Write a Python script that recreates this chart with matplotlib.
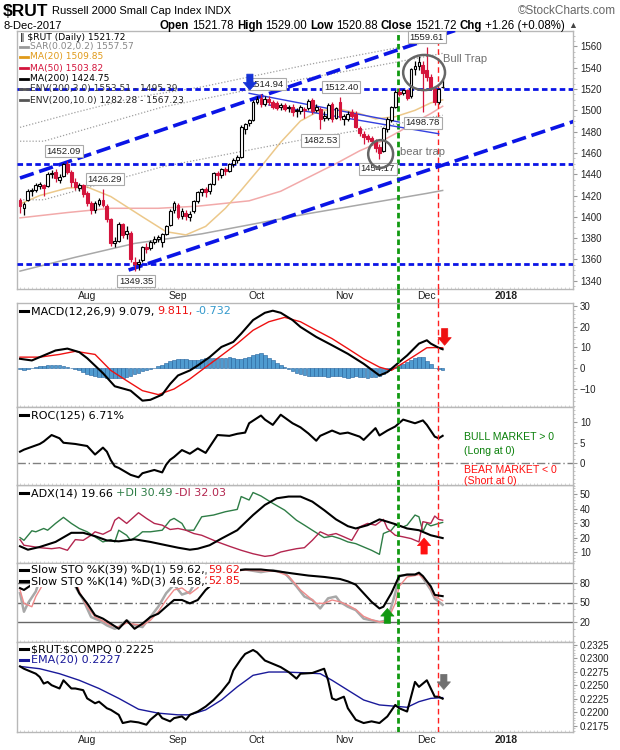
import matplotlib
matplotlib.use("Agg")
import matplotlib.pyplot as plt
from matplotlib.patches import Ellipse, Rectangle
from matplotlib.ticker import MultipleLocator, FormatStrFormatter

plt.rcParams["font.family"] = ["DejaVu Sans"]

W, H = 620, 750
ARIAL = ["Liberation Sans", "DejaVu Sans"]
RED = "#d4143c"
BLUE = "#0a14e6"
FRAME = "#b8b8b8"

# ---- daily bars, 10-Jul-2017 .. 8-Dec-2017 (trading-day index 0..107)
opens = [1416, 1408, 1416, 1424, 1425, 1429, 1430, 1429, 1440, 1442,
         1435, 1438, 1450, 1442, 1433, 1427, 1430, 1422, 1413, 1406,
         1412, 1416, 1410, 1398, 1375, 1377, 1393, 1384, 1385, 1358,
         1356, 1359, 1372, 1371, 1376, 1379, 1376, 1384, 1392, 1406,
         1411, 1401, 1404, 1400, 1405, 1415, 1423, 1426, 1424, 1431,
         1441, 1439, 1445, 1443, 1450, 1453, 1456, 1482, 1488, 1491,
         1508, 1512, 1506, 1511, 1508, 1507, 1503, 1505, 1502, 1503,
         1499, 1499, 1500, 1502, 1510, 1500, 1501, 1493, 1493, 1506,
         1493, 1508, 1492, 1492, 1498, 1497, 1483, 1478, 1476, 1474,
         1471, 1466, 1462, 1482, 1491, 1503, 1517, 1516, 1519, 1513,
         1539, 1542, 1543, 1538, 1531, 1520, 1508, 1521.78]
highs = [1418, 1414, 1426, 1427, 1432, 1433, 1431, 1442, 1444, 1445,
         1440, 1451, 1452.09, 1444, 1436, 1432, 1431, 1424, 1415, 1415,
         1418, 1426.29, 1412, 1399, 1381, 1395, 1394, 1391, 1387, 1362,
         1360, 1373, 1375, 1378, 1382, 1383, 1385, 1392, 1407, 1415,
         1413, 1408, 1406, 1405, 1416, 1424, 1427, 1428, 1432, 1442,
         1443, 1446, 1447, 1451, 1455, 1458, 1486, 1488, 1492, 1510,
         1513, 1514.94, 1513, 1513, 1510, 1509, 1507, 1507, 1505, 1506,
         1502, 1505, 1503, 1511, 1512, 1506, 1503, 1499, 1507, 1508,
         1503, 1512.40, 1497, 1499, 1501, 1499, 1485, 1481, 1478, 1476,
         1473, 1468, 1484, 1494, 1504, 1519, 1521, 1520, 1520, 1540,
         1546, 1551, 1546, 1559.61, 1534, 1522, 1521, 1529.00]
lows = [1404, 1402, 1415, 1420, 1423, 1426, 1420, 1428, 1436, 1433,
        1432, 1437, 1440, 1428, 1425, 1424, 1419, 1410, 1403, 1404,
        1410, 1409, 1395, 1373, 1372, 1376, 1380, 1379, 1358, 1349.35,
        1350, 1358, 1366, 1369, 1374, 1376, 1372, 1383, 1391, 1404,
        1398, 1398, 1397, 1396, 1404, 1413, 1420, 1419, 1421, 1430,
        1435, 1436, 1439, 1442, 1447, 1451, 1455, 1478, 1485, 1490,
        1506, 1503, 1504, 1505, 1501, 1500, 1500, 1499, 1498, 1495,
        1494, 1497, 1493, 1500, 1497, 1498, 1482.53, 1490, 1491, 1489,
        1492, 1491, 1486, 1490, 1493, 1483, 1476, 1468, 1470, 1467,
        1461, 1454.17, 1461, 1480, 1489, 1502, 1513, 1514, 1510, 1512,
        1533, 1538, 1498.78, 1528, 1519, 1505, 1506, 1520.88]
closes = [1410, 1412, 1424, 1425, 1430, 1431, 1427, 1440, 1441, 1436,
          1437, 1450, 1442, 1433, 1428, 1430, 1421, 1413, 1406, 1413,
          1416, 1411, 1398, 1375, 1377, 1393, 1383, 1387, 1360, 1356,
          1358, 1372, 1370, 1376, 1379, 1381, 1384, 1391, 1405, 1413,
          1400, 1405, 1401, 1403, 1415, 1423, 1426, 1423, 1431, 1441,
          1439, 1445, 1443, 1450, 1453, 1456, 1484, 1487, 1491, 1508,
          1511, 1506, 1511, 1508, 1503, 1502, 1505, 1501, 1503, 1498,
          1500, 1503, 1501, 1509, 1499, 1503, 1492, 1495, 1505, 1492,
          1502, 1494, 1495, 1497, 1495, 1484, 1479, 1475, 1473, 1471,
          1465, 1460, 1483, 1492, 1503, 1517, 1515, 1519, 1512, 1539,
          1542, 1545, 1535, 1531, 1521, 1508, 1520.46, 1521.72]

# ---- overlays (read at a few points)
ma20_x = [0, 5, 12, 17, 23, 31, 37, 42, 47, 52, 56, 61, 66, 71, 76, 81, 86, 90, 95, 100, 104, 107]
ma20_v = [1412, 1420, 1427, 1428, 1419, 1400, 1386, 1383, 1391, 1408, 1425, 1447, 1470, 1490,
          1500, 1501, 1497, 1492, 1494, 1500, 1507, 1509.85]
ma50_x = [0, 12, 23, 35, 45, 58, 66, 73, 80, 86, 91, 96, 100, 104, 107]
ma50_v = [1399, 1404, 1408, 1408, 1410, 1415, 1424, 1437, 1450, 1462, 1470, 1480, 1489, 1497, 1503.82]
ma200_x = [0, 14, 29, 46, 73, 103, 107]
ma200_v = [1349, 1362, 1375, 1384, 1403, 1422, 1424.75]
env10_up_v = [1484, 1498, 1512, 1522, 1543, 1564, 1567.23]
env_x = [0, 6, 36, 71, 92, 107]
env_up_v = [1471, 1471, 1503, 1529, 1543, 1553.51]
env_lo_v = [1416, 1416, 1447, 1472, 1485, 1495.39]

levels = [1520, 1450, 1356]
up_chan_x, up_chan_v = [0, 120], [1436.4, 1587.4]
lo_chan_x, lo_chan_v = [27.5, 140.5], [1350, 1490]
desc_up_x, desc_up_v = [58, 96], [1516, 1489]
desc_lo_x, desc_lo_v = [63, 106], [1505, 1478]

lbl_text = ["1452.09", "1426.29", "1349.35", "1514.94", "1512.40", "1482.53", "1454.17", "1498.78", "1559.61"]
lbl_x = [11.1, 21.5, 29.4, 62.5, 81.3, 76.0, 90.6, 102.0, 103.0]
lbl_y = [1461.8, 1435.5, 1339.7, 1524.7, 1521.9, 1471.6, 1444.9, 1488.1, 1568.8]

green_day, red_day = 95.6, 105.7

# ---- MACD
macd_x = [0, 3, 6, 9, 12, 15, 17, 21, 24, 28, 31, 33, 36, 38, 40, 43, 45, 48, 51, 54,
          56, 59, 62, 64, 66, 69, 71, 75, 79, 83, 87, 91, 93, 95, 98, 101, 103, 104, 106, 107]
macd_v = [4.5, 3.7, 6.1, 8.5, 9.4, 7.7, 4.8, -2.4, -8.7, -10.8, -15.6, -15.2, -12.7, -7.6, -3.5, -1.1, 1.3, 5.3, 10.2, 12.6,
          16.6, 23.1, 26.6, 27.6, 26.6, 23.1, 19.8, 15.0, 11.0, 6.9, 2.1, -3.5, -1.9, 1.3, 6.1, 11.8, 13.4, 11.8, 9.8, 9.08]
sig_x = [0, 5, 10, 14, 19, 23, 27, 31, 35, 39, 43, 47, 51, 55, 59, 63, 67, 71, 75, 79,
         83, 87, 91, 94, 96, 100, 103, 105, 107]
sig_v = [5.3, 5.3, 6.6, 8.1, 6.6, -1.1, -6.0, -10.8, -12.7, -10.0, -5.2, 0.5, 6.1, 11.8, 18.2, 22.3, 24.4, 22.3, 18.2, 14.2,
         9.4, 4.5, 0.5, -1.1, 1.3, 6.1, 9.8, 9.9, 9.81]
hist = [-0.5, -0.9, -0.6,
        0.3, 0.6, 0.9, 1.1, 1.3, 1.5, 1.6, 1.5, 1.2, 0.8, 0.3,
        -0.3, -1.0, -1.8, -2.6,
        -3.3, -3.8, -4.2, -4.4, -4.6, -4.8, -4.9, -4.8, -4.6, -4.4,
        -3.8, -3.0, -2.2, -1.5, -0.9,
        -0.3, 0.3, 0.9, 1.6,
        2.5, 3.3, 4.1,
        4.6, 4.5, 4.2, 3.9, 3.7, 4.0, 4.4,
        4.7, 5.0, 5.1, 4.9, 4.8, 5.0, 5.2, 4.9,
        4.6, 4.4, 4.7, 5.3,
        6.2, 6.9, 7.2,
        6.3, 5.1, 3.9, 2.6, 1.4,
        0.4, -0.6, -1.5, -2.3,
        -2.9, -3.3, -3.6, -3.8, -3.7, -3.8, -4.0, -4.1, -3.9, -3.7, -4.0, -4.3, -4.5, -4.2, -4.0, -4.1,
        -4.4, -4.6, -4.4, -4.1, -3.6,
        -2.6, -1.4, -0.2, 0.5,
        1.3, 2.1, 3.0, 3.9,
        4.8, 5.5, 5.2,
        3.6, 1.8, 0.2, -0.4, -0.73]

# ---- ROC(125)
roc_x = [0, 1, 3, 5, 6, 8, 10, 11, 14, 17, 19, 21, 22, 23, 24, 25, 28, 30, 31, 34,
         36, 37, 38, 39, 41, 43, 45, 47, 50, 53, 55, 57, 58, 61, 62, 64, 66, 69, 71, 73,
         75, 76, 79, 81, 83, 86, 87, 90, 91, 93, 95, 97, 100, 102, 103, 105, 106, 107]
roc_v = [2.8, 3.3, 4.0, 4.7, 5.3, 6.9, 6.1, 5.0, 4.7, 4.2, 2.1, 3.8, 2.8, 0.7, -0.8, -1.2, -2.9, -3.5, -2.5, -1.7,
         -2.3, -0.4, 0.8, 1.5, 3.2, 2.3, 3.6, 2.5, 6.9, 6.7, 7.2, 7.5, 9.8, 11.7, 10.7, 9.4, 11.9, 9.8, 8.8, 7.3,
         5.5, 6.7, 8.0, 7.2, 7.5, 6.5, 5.7, 8.6, 6.8, 8.0, 9.0, 10.7, 9.8, 10.5, 9.4, 6.5, 6.1, 6.71]

# ---- ADX(14)
adx_x = [0, 2, 5, 9, 13, 16, 19, 22, 25, 29, 33, 37, 40, 43, 45, 48, 51, 55, 59, 62,
         65, 68, 71, 74, 77, 80, 83, 85, 88, 91, 93, 95, 98, 101, 104, 107]
adx_v = [14.0, 11.6, 13.5, 17.0, 23.3, 23.3, 21.0, 18.0, 17.4, 18.8, 17.0, 14.7, 13.0, 11.6, 12.3, 14.7, 19.3, 25.1, 35.6, 42.6,
         47.2, 48.4, 48.4, 44.9, 39.0, 32.6, 27.9, 26.3, 28.6, 32.6, 31.0, 29.3, 26.3, 25.1, 21.6, 19.66]
pdi_x = [0, 1, 3, 4, 6, 7, 9, 11, 13, 15, 17, 19, 21, 23, 24, 25, 27, 28, 30, 31,
         33, 36, 38, 39, 41, 42, 44, 46, 49, 52, 55, 56, 58, 59, 61, 64, 67, 70, 72, 74,
         77, 79, 81, 83, 85, 87, 89, 91, 92, 94, 95, 97, 98, 100, 101, 102, 103, 104, 106, 107]
pdi_v = [20.0, 18.1, 24.7, 24.0, 26.3, 25.1, 29.8, 34.0, 29.8, 26.3, 24.0, 20.5, 17.0, 18.6, 17.0, 25.1, 21.6, 18.1, 21.6, 24.0,
         24.0, 25.1, 32.0, 33.3, 29.8, 25.1, 25.1, 34.4, 35.6, 37.9, 39.5, 48.4, 46.0, 51.2, 48.8, 43.7, 39.0, 32.0, 28.6, 25.1,
         20.0, 21.0, 19.3, 17.0, 15.8, 13.5, 11.2, 8.4, 22.8, 25.1, 28.6, 27.4, 28.6, 35.6, 34.4, 24.0, 29.8, 28.1, 29.8, 30.49]
mdi_x = [0, 1, 5, 8, 10, 12, 14, 16, 18, 19, 21, 23, 24, 25, 27, 30, 32, 34, 36, 38,
         40, 42, 44, 46, 48, 50, 53, 56, 59, 62, 64, 66, 68, 70, 72, 74, 76, 78, 80, 82,
         84, 86, 88, 90, 92, 93, 95, 97, 99, 101, 102, 104, 105, 106, 107]
mdi_v = [18.6, 14.7, 13.0, 12.3, 13.0, 11.2, 18.6, 18.1, 21.6, 24.0, 22.3, 25.1, 32.0, 34.0, 29.8, 37.2, 33.3, 29.8, 28.6, 25.6,
         26.3, 25.1, 22.8, 21.6, 19.3, 17.0, 14.0, 11.2, 8.8, 7.0, 7.7, 10.0, 11.2, 12.3, 13.0, 18.1, 24.0, 21.6, 22.8, 20.5,
         18.1, 27.4, 29.8, 28.6, 32.6, 26.3, 21.6, 20.5, 19.3, 17.0, 31.0, 29.8, 34.9, 32.6, 32.03]

# ---- Slow stochastics
k39_x = [0, 1, 3, 5, 7, 9, 11, 13, 15, 17, 19, 21, 23, 25, 27, 29, 31, 33, 35, 37,
         39, 41, 43, 45, 47, 49, 51, 53, 57, 61, 65, 69, 73, 77, 81, 83, 85, 87, 89, 91,
         92, 94, 95, 96, 98, 100, 101, 102, 104, 105, 107]
k39_v = [71.8, 69.0, 77.0, 87.0, 97.0, 99.0, 98.0, 90.0, 64.0, 48.7, 30.7, 25.6, 18.0, 10.2, 23.0, 10.2, 18.0, 28.0, 33.0, 43.6,
         53.8, 53.8, 48.7, 53.8, 69.0, 79.5, 90.0, 97.0, 100.0, 100.0, 97.4, 94.0, 90.8, 88.7, 85.6, 82.0, 77.0, 64.0, 51.0, 41.0,
         43.6, 64.0, 77.0, 90.0, 92.3, 92.3, 95.0, 90.0, 74.4, 61.5, 59.62]
k14_x = [0, 1, 2, 4, 5, 7, 10, 13, 14, 16, 18, 20, 22, 24, 25, 27, 29, 31, 33, 35,
         37, 39, 41, 43, 45, 47, 49, 53, 57, 61, 64, 67, 70, 72, 74, 76, 78, 80, 81, 83,
         85, 87, 89, 91, 93, 95, 96, 98, 100, 101, 102, 104, 105, 107]
k14_v = [64.0, 36.0, 48.7, 66.7, 84.6, 97.0, 100.0, 95.0, 74.0, 54.0, 28.0, 23.0, 15.4, 10.2, 12.8, 23.0, 15.4, 12.8, 28.0, 43.6,
         64.0, 77.0, 62.0, 66.0, 88.0, 94.0, 97.0, 98.0, 100.0, 96.0, 99.0, 95.0, 74.4, 59.0, 53.8, 41.0, 56.4, 59.0, 51.0, 43.6,
         38.5, 25.6, 23.0, 20.5, 23.0, 64.0, 90.0, 92.0, 92.0, 95.0, 87.0, 69.0, 56.0, 46.58]
d3_x = [0, 1, 3, 4, 6, 8, 11, 14, 15, 17, 19, 21, 23, 25, 27, 29, 31, 33, 35, 37,
        39, 41, 43, 45, 47, 49, 53, 57, 61, 65, 68, 71, 73, 75, 77, 79, 81, 83, 85, 87,
        89, 91, 93, 95, 96, 98, 100, 101, 103, 105, 107]
d3_v = [69.0, 48.7, 43.6, 59.0, 79.5, 95.0, 100.0, 87.0, 66.7, 43.6, 28.0, 22.0, 15.4, 12.8, 19.0, 17.0, 15.4, 23.0, 36.0, 53.8,
        69.0, 72.0, 63.0, 72.0, 88.0, 93.0, 97.0, 99.0, 98.0, 97.0, 90.0, 69.0, 59.0, 48.7, 48.7, 53.8, 51.0, 46.0, 39.5, 29.0,
        24.0, 20.5, 22.0, 48.7, 74.4, 88.7, 90.8, 92.3, 82.0, 59.0, 52.85]

# ---- $RUT:$COMPQ ratio
rat_x = [0, 1, 2, 4, 5, 6, 7, 8, 10, 11, 13, 14, 16, 17, 19, 20, 22, 23, 25, 26,
         28, 30, 32, 33, 35, 36, 38, 39, 41, 42, 43, 45, 47, 49, 51, 53, 54, 56, 57, 59,
         60, 62, 64, 66, 68, 70, 71, 74, 77, 78, 79, 80, 82, 83, 85, 87, 89, 91, 93, 95,
         96, 98, 100, 101, 103, 105, 106, 107]
rat_v = [0.22848, 0.22805, 0.22774, 0.22713, 0.22652, 0.22530, 0.22560, 0.22500, 0.22439, 0.22591,
         0.22439, 0.22439, 0.22408, 0.22256, 0.22165, 0.22195, 0.22073, 0.22043, 0.21951, 0.21799,
         0.21830, 0.21811, 0.21768, 0.21860, 0.21982, 0.21890, 0.21830, 0.21890, 0.21921, 0.21860,
         0.21951, 0.22012, 0.22104, 0.22226, 0.22378, 0.22561, 0.22774, 0.22988, 0.23079, 0.23152,
         0.23109, 0.22957, 0.22896, 0.22835, 0.22744, 0.22622, 0.22713, 0.22726, 0.22805, 0.22591,
         0.22256, 0.22226, 0.22287, 0.22073, 0.21860, 0.21799, 0.21830, 0.21799, 0.21921, 0.22134,
         0.22073, 0.22012, 0.22561, 0.22469, 0.22591, 0.22287, 0.22287, 0.22250]
ema_x = [0, 5, 10, 15, 20, 25, 30, 35, 40, 43, 47, 51, 55, 59, 63, 67, 71, 76, 79, 83,
         87, 91, 94, 98, 101, 104, 107]
ema_v = [0.22848, 0.22805, 0.22713, 0.22591, 0.22439, 0.22256, 0.22055, 0.21982, 0.21951, 0.21951,
         0.22043, 0.22226, 0.22469, 0.22683, 0.22744, 0.22744, 0.22732, 0.22713, 0.22591, 0.22408,
         0.22226, 0.22134, 0.22116, 0.22091, 0.22195, 0.22256, 0.22270]

month_start = [16, 39, 59, 81, 102, 122]
month_names = ["Aug", "Sep", "Oct", "Nov", "Dec", "2018"]

# ------------------------------------------------------------------
fig = plt.figure(figsize=(W / 100, H / 100), dpi=100)
fig.patch.set_facecolor("white")
X0, X1 = -0.76, 140.0


def box(top, bottom, left=17, right=573):
    return [left / W, 1 - bottom / H, (right - left) / W, (bottom - top) / H]


ax_p = fig.add_axes(box(31, 289))
ax_m = fig.add_axes(box(303, 407))
ax_r = fig.add_axes(box(407, 485))
ax_a = fig.add_axes(box(485, 563))
ax_s = fig.add_axes(box(563, 642))
ax_c = fig.add_axes(box(642, 732))
panels = [ax_p, ax_m, ax_r, ax_a, ax_s, ax_c]
ax_r.set_zorder(2)

for ax in panels:
    ax.set_facecolor("white")
    for sp in ax.spines.values():
        sp.set_color(FRAME)
        sp.set_linewidth(1)
    ax.yaxis.tick_right()
    ax.tick_params(axis="y", which="major", length=3, width=0.8, color="#999999",
                   labelsize=7, pad=2, labelcolor="#222222", labelfontfamily="Liberation Sans")
    ax.tick_params(axis="y", which="minor", length=1.5, width=0.6, color="#bbbbbb")
    ax.set_xticks([m + 1 for m in month_start])
    ax.set_xticks(range(0, 141), minor=True)
    ax.tick_params(axis="x", which="major", length=0, labelbottom=False)
    ax.tick_params(axis="x", which="minor", length=1.5, width=0.5, color="#c8c8c8", direction="in")
    ax.axvline(green_day, color="#119911", lw=2, dashes=(2, 1.2), zorder=4)
    ax.axvline(red_day, color="#ff2020", lw=1, dashes=(4, 2.5), zorder=4)

for ax, pad in ((ax_p, 1.5), (ax_c, 2.5)):
    ax.tick_params(axis="x", which="major", labelbottom=True, labelsize=7.5, pad=pad,
                   labelfontfamily="Liberation Sans", labelcolor="#222222")
    ax.set_xticklabels(month_names)
    ax.get_xticklabels()[-1].set_fontweight("bold")


def block_arrow(ax, x, y_from, y_to, col):
    ax.annotate("", xy=(x, y_to), xytext=(x, y_from), zorder=8,
                arrowprops=dict(arrowstyle="simple,head_length=0.55,head_width=0.95,tail_width=0.45",
                                fc=col, ec=col, lw=0.5, shrinkA=0, shrinkB=0))


# ---- price panel
for i in range(len(closes)):
    o, hi, lo, c = opens[i], highs[i], lows[i], closes[i]
    prev = closes[i - 1] if i else o
    col = RED if c < prev else "black"
    ax_p.vlines(i, lo, hi, color=col, lw=0.9, zorder=5)
    b0, b1 = min(o, c), max(o, c)
    face = "white" if c >= o else col
    ax_p.add_patch(Rectangle((i - 0.36, b0), 0.72, max(b1 - b0, 0.5), facecolor=face,
                             edgecolor=col, lw=0.8, zorder=6))

ax_p.plot(ma200_x, ma200_v, color="#a8a8a8", lw=1.1, zorder=3)
ax_p.plot(ma50_x, ma50_v, color="#f2aaaa", lw=1.1, zorder=3)
ax_p.plot(ma20_x, ma20_v, color="#ecc88a", lw=1.1, zorder=3)
ax_p.plot(ma200_x, env10_up_v, color="#a0a0a0", lw=0.9, dashes=(1, 1.5), zorder=3)
ax_p.plot(env_x, env_up_v, color="#a0a0a0", lw=0.9, dashes=(1, 1.5), zorder=3)
ax_p.plot(env_x, env_lo_v, color="#a0a0a0", lw=0.9, dashes=(1, 1.5), zorder=3)

for lv in levels:
    ax_p.axhline(lv, color=BLUE, lw=2, dashes=(2, 1.2), zorder=4)
ax_p.plot(up_chan_x, up_chan_v, color=BLUE, lw=2.6, dashes=(4, 1.6), zorder=4)
ax_p.plot(lo_chan_x, lo_chan_v, color=BLUE, lw=2.6, dashes=(4, 1.6), zorder=4)
ax_p.plot(desc_up_x, desc_up_v, color="#3340e0", lw=1, zorder=4)
ax_p.plot(desc_lo_x, desc_lo_v, color="#3340e0", lw=1, zorder=4)

for s, x, y in zip(lbl_text, lbl_x, lbl_y):
    ax_p.text(x, y, s, ha="center", va="center", fontsize=6.8, family=ARIAL, color="#222222", zorder=7,
              bbox=dict(boxstyle="square,pad=0.18", fc="white", ec="#aaaaaa", lw=0.8))

ax_p.add_patch(Ellipse((102.3, 1535.5), 10.6, 33, fill=False, ec="#666666", lw=1.8, zorder=7))
ax_p.add_patch(Ellipse((91.3, 1459), 6.3, 26, fill=False, ec="#666666", lw=1.8, zorder=7))
ax_p.text(107.1, 1548, "Bull Trap", color="#707070", fontsize=8, family=ARIAL, va="center", zorder=7)
ax_p.text(96.2, 1461, "bear trap", color="#707070", fontsize=8, family=ARIAL, va="center", zorder=7)
block_arrow(ax_p, 58.2, 1534, 1519, "#1533d6")

ax_p.set_ylim(1332.2, 1574.5)
ax_p.yaxis.set_major_locator(MultipleLocator(20))
ax_p.yaxis.set_minor_locator(MultipleLocator(5))
# the two signal lines continue through the date row under the price panel
for xd, col, lw, ds in ((green_day, "#119911", 2, (2, 1.2)), (red_day, "#ff2020", 1, (4, 2.5))):
    ax_p.plot([xd, xd], [1332.2, 1332.2 - 14 / 1.065], color=col, lw=lw, dashes=ds, clip_on=False, zorder=4)

# ---- MACD
ax_m.bar(range(len(hist)), hist, width=0.92, color="#4f9bd0", edgecolor="#21609a", linewidth=0.4, zorder=2)
ax_m.plot(sig_x, sig_v, color="#ee1111", lw=1, zorder=3)
ax_m.plot(macd_x, macd_v, color="black", lw=1.5, zorder=3)
block_arrow(ax_m, 107.5, 19, 11, "#ee1111")
ax_m.set_ylim(-18.65, 31.3)
ax_m.set_yticks([-10, 0, 10, 20, 30])
ax_m.yaxis.set_minor_locator(MultipleLocator(2))

# ---- ROC
ax_r.axhline(0, color="#808080", lw=1, dashes=(6, 2, 1, 2), zorder=2)
ax_r.plot(roc_x, roc_v, color="black", lw=1.5, zorder=3)
ax_r.text(112.3, 6.4, "BULL MARKET > 0", color="#0a800a", fontsize=7.6, family=ARIAL, va="center")
ax_r.text(112.3, 2.9, "(Long at 0)", color="#0a800a", fontsize=7.6, family=ARIAL, va="center")
ax_r.text(112.3, -1.7, "BEAR MARKET < 0", color="#ff1010", fontsize=7.6, family=ARIAL, va="center")
ax_r.text(112.3, -4.5, "(Short at 0)", color="#ff1010", fontsize=7.6, family=ARIAL, va="center")
ax_r.set_ylim(-5.4, 13.8)
ax_r.set_yticks([0, 5, 10])
ax_r.yaxis.set_minor_locator(MultipleLocator(1))

# ---- ADX
ax_a.plot(pdi_x, pdi_v, color="#2e7d46", lw=1, zorder=3)
ax_a.plot(mdi_x, mdi_v, color="#b3264f", lw=1, zorder=3)
ax_a.plot(adx_x, adx_v, color="black", lw=1.5, zorder=3)
block_arrow(ax_a, 102.3, 8.6, 19.7, "#ff1010")
ax_a.set_ylim(2.4, 56.4)
ax_a.set_yticks([10, 20, 30, 40, 50])
ax_a.yaxis.set_minor_locator(MultipleLocator(2))

# ---- Slow STO
ax_s.axhline(80, color="#666666", lw=1, zorder=2)
ax_s.axhline(20, color="#666666", lw=1, zorder=2)
ax_s.axhline(50, color="#666666", lw=1, dashes=(6, 2, 1, 2), zorder=2)
ax_s.plot(k14_x, k14_v, color="#a8a8a8", lw=1.8, zorder=3)
ax_s.plot(d3_x, d3_v, color="#f08a8a", lw=1, zorder=3)
ax_s.plot(k39_x, k39_v, color="black", lw=1.5, zorder=4)
block_arrow(ax_s, 93, 18.5, 41, "#119911")
ax_s.set_ylim(-9.8, 109.8)
ax_s.set_yticks([20, 50, 80])
ax_s.yaxis.set_minor_locator(MultipleLocator(10))

# ---- ratio
ax_c.plot(ema_x, ema_v, color="#1a1a9a", lw=1, zorder=3)
ax_c.plot(rat_x, rat_v, color="black", lw=1.5, zorder=3)
block_arrow(ax_c, 107.3, 0.2270, 0.2242, "#707070")
ax_c.set_ylim(0.21633, 0.2330)
ax_c.set_yticks([0.2175, 0.2200, 0.2225, 0.2250, 0.2275, 0.2300, 0.2325])
ax_c.yaxis.set_major_formatter(FormatStrFormatter("%.4f"))
ax_c.yaxis.set_minor_locator(MultipleLocator(0.0005))

for ax in panels:
    ax.set_xlim(X0, X1)

# ---- texts (pixel positions from the top-left corner)
renderer = fig.canvas.get_renderer()


def rich(ax, x, y, parts, size=8.0, bg=False, family=None, gap=3):
    for s, col, wt, fs in [(p + (None,))[:4] for p in parts]:
        t = ax.text(x / W, 1 - y / H, s, transform=fig.transFigure, color=col, fontsize=fs or size,
                    fontweight=wt, va="center", ha="left", zorder=9, family=family or ["DejaVu Sans"])
        if bg:
            t.set_bbox(dict(facecolor="white", edgecolor="none", pad=0.4))
        x += t.get_window_extent(renderer=renderer).width + gap
    return x


def key(ax, x, y, col, lw=2.2):
    ax.plot([x / W, (x + 8) / W], [1 - y / H] * 2, transform=fig.transFigure,
            color=col, lw=lw, clip_on=False, zorder=10)


rich(ax_p, 3, 11, [(r"\$RUT", "black", "bold", 12.5),
                   ("Russell 2000 Small Cap Index INDX", "black", "normal", 8)], family=ARIAL, gap=4)
fig.text(616 / W, 1 - 11 / H, "\u00a9StockCharts.com", fontsize=8.5, family=ARIAL, va="center",
         ha="right", color="#666666")
fig.text(3 / W, 1 - 26 / H, "8-Dec-2017", fontsize=8, family=ARIAL, va="center")
rich(ax_p, 160, 26, [("Open", "black", "bold"), ("1521.78", "black", "normal"),
                     ("High", "black", "bold"), ("1529.00", "black", "normal"),
                     ("Low", "black", "bold"), ("1520.88", "black", "normal"),
                     ("Close", "black", "bold"), ("1521.72", "black", "normal"),
                     ("Chg", "black", "bold"), ("+1.26 (+0.08%)", "black", "normal"),
                     ("\u25b2", "#444444", "normal", 6.5)], size=8.3, family=ARIAL)

# main legend
rich(ax_p, 20, 37, [("\u2016 \\$RUT (Daily) 1521.72", "black", "normal")], size=6.6)
leg = [(47, "#999999", "SAR(0.02,0.2) 1557.57", "#888888"),
       (57, "#e09a1a", "MA(20) 1509.85", "#e09a1a"),
       (68, "#d4143c", "MA(50) 1503.82", "#d4143c"),
       (79, "black", "MA(200) 1424.75", "black"),
       (89, "#555555", "ENV(200,3.0) 1553.51 - 1495.39", "#333333"),
       (100, "#555555", "ENV(200,10.0) 1282.28 - 1567.23", "#222222")]
for y, kc, s, tc in leg:
    key(ax_p, 20, y, kc, lw=2)
    rich(ax_p, 30, y, [(s, tc, "normal")], size=6.6)

key(ax_m, 20, 311, "black")
rich(ax_m, 31, 311, [("MACD(12,26,9) 9.079,", "black", "normal"), ("9.811,", "#ee1111", "normal"),
                     ("-0.732", "#3399cc", "normal")], bg=True)
key(ax_r, 20, 415, "black")
rich(ax_r, 31, 415, [("ROC(125) 6.71%", "black", "normal")], bg=True)
key(ax_a, 20, 493, "black")
rich(ax_a, 31, 493, [("ADX(14) 19.66", "black", "normal"), ("+DI 30.49", "#2e7d46", "normal"),
                     ("-DI 32.03", "#b3264f", "normal")], bg=True)
key(ax_s, 20, 570, "black")
rich(ax_s, 31, 570, [("Slow STO %K(39) %D(1) 59.62,", "black", "normal"), ("59.62", "#ee1111", "normal")], bg=True)
key(ax_s, 20, 581, "black")
rich(ax_s, 31, 581, [("Slow STO %K(14) %D(3) 46.58,", "black", "normal"), ("52.85", "#ee1111", "normal")], bg=True)
key(ax_c, 20, 649, "black")
rich(ax_c, 31, 649, [(r"\$RUT:\$COMPQ 0.2225", "black", "normal")], bg=True)
key(ax_c, 20, 660, "#1a1a9a")
rich(ax_c, 31, 660, [("EMA(20) 0.2227", "#1a1a9a", "normal")], bg=True)

fig.savefig("out.png", dpi=100, facecolor="white")
